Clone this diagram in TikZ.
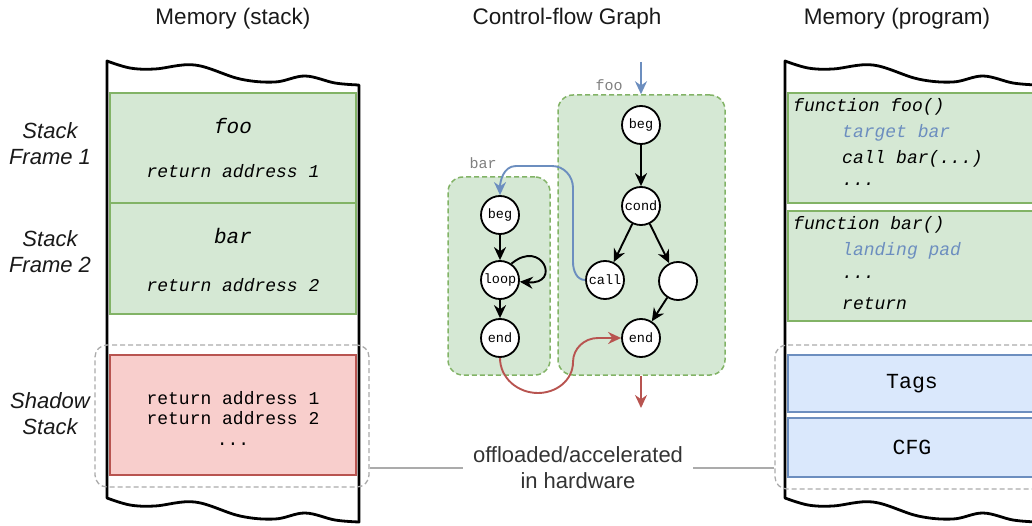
\documentclass[tikz,border=0pt]{standalone}
\usepackage{fontspec}
\setmainfont{Liberation Sans}
\setmonofont{Liberation Mono}
\usetikzlibrary{arrows.meta}

\definecolor{grfill}{HTML}{D5E8D4}
\definecolor{grline}{HTML}{82B366}
\definecolor{rdfill}{HTML}{F8CECC}
\definecolor{rdline}{HTML}{B85450}
\definecolor{blfill}{HTML}{DAE8FC}
\definecolor{blline}{HTML}{6C8EBF}
\definecolor{hwgray}{HTML}{ABABAB}
\definecolor{txtgray}{HTML}{333333}

\newcommand{\sans}[2]{\fontsize{#1}{#2}\selectfont}
\newcommand{\mono}[2]{\ttfamily\fontsize{#1}{#2}\selectfont}

\tikzset{
  tape/.style={line width=2.8pt, line join=round},
  greenbox/.style={draw=grline, fill=grfill, line width=1.4pt, inner sep=0pt},
  redbox/.style={draw=rdline, fill=rdfill, line width=1.4pt, inner sep=0pt},
  bluebox/.style={draw=blline, fill=blfill, line width=1.4pt, inner sep=0pt, font=\mono{21.5}{25}},
  hwbox/.style={draw=hwgray, dashed, dash pattern=on 5pt off 3pt, line width=1.3pt, rounded corners=12, inner sep=0pt},
  grp/.style={draw=grline, fill=grfill, dash pattern=on 5pt off 3pt, line width=1.5pt, rounded corners=15, inner sep=0pt},
  grplbl/.style={text=gray, font=\mono{15}{17}},
  cfgnode/.style={circle, draw, fill=white, line width=1.8pt, minimum size=38, inner sep=0pt, font=\mono{13.5}{15}},
  arr/.style={line width=1.9pt, -{Stealth[length=13pt, width=12pt]}},
  barr/.style={arr, draw=blline},
  rarr/.style={arr, draw=rdline},
  code/.style={anchor=west, inner sep=0pt, font=\mono{18}{20}\itshape},
  lbl/.style={align=center, font=\sans{22}{26}\itshape, text=black!90},
  title/.style={font=\sans{22.5}{26}, text=black!90}
}

\begin{document}
\begin{tikzpicture}[x=1pt, y=-1pt]
  \useasboundingbox (0,0) rectangle (1032,526);
  \clip (0,0) rectangle (1032,526);

  % titles
  \node[title] (t1) at (233,19) {Memory (stack)};
  \node[title] (t2) at (567,19) {Control-flow Graph};
  \node[title] (t3) at (897,19) {Memory (program)};

  % tapes
  \foreach \dx in {0,678} {
    \draw[tape, xshift=\dx] (107,61) -- plot[smooth, tension=0.6] coordinates {(107,61) (130,68) (155,69) (195,65) (240,79) (275,82) (305,76) (335,83) (359,85)}
      -- (359,522) -- plot[smooth, tension=0.6] coordinates {(359,522) (335,520) (305,513) (275,519) (240,516) (195,502) (155,506) (130,505) (107,498)} -- cycle;
  }

  % hardware groups
  \node[hwbox, minimum width=274, minimum height=142] (lhw) at (232,416) {};
  \node[hwbox, minimum width=270, minimum height=144] (rhw) at (910,417) {};

  % stack
  \node[greenbox, minimum width=246, minimum height=110] (sfoo) at (233,148) {};
  \node[greenbox, minimum width=246, minimum height=111] (sbar) at (233,258.5) {};
  \node[redbox, minimum width=246, minimum height=120] (shadow) at (233,415) {};
  \node[font=\mono{21}{24}\itshape] (sfootxt) at (233,126) {foo};
  \node[font=\mono{18}{20}\itshape] (sfooret) at (233,171) {return address 1};
  \node[font=\mono{21}{24}\itshape] (sbartxt) at (233,236) {bar};
  \node[font=\mono{18}{20}\itshape] (sbarret) at (233,285) {return address 2};
  \node[align=center, font=\mono{18}{20.5}] (shtxt) at (233,418) {return address 1\\return address 2\\...};

  \node[lbl] (sf1) at (50,144) {Stack\\Frame 1};
  \node[lbl] (sf2) at (50,252) {Stack\\Frame 2};
  \node[lbl] (ssh) at (50,414) {Shadow\\Stack};

  % control-flow graph
  \node[grp, minimum width=102, minimum height=198] (bargrp) at (499,276) {};
  \node[grp, minimum width=167, minimum height=280] (foogrp) at (641.5,235) {};
  \node[grplbl] (barlbl) at (483,163) {bar};
  \node[grplbl] (foolbl) at (609,85) {foo};

  \node[cfgnode] (bbeg) at (500,215) {beg};
  \node[cfgnode] (bloop) at (500,280) {loop};
  \node[cfgnode] (bend) at (500,338) {end};
  \node[cfgnode] (fbeg) at (641,125) {beg};
  \node[cfgnode] (fcond) at (641,206) {cond};
  \node[cfgnode] (fcall) at (605,280) {call};
  \node[cfgnode] (fblank) at (678,281) {};
  \node[cfgnode] (fend) at (641,338) {end};

  \draw[arr] (bbeg) -- (bloop);
  \draw[arr] (bloop) -- (bend);
  \draw[arr] (bloop.55) .. controls (542,238) and (562,285) .. (bloop.-5);
  \draw[arr] (fbeg) -- (fcond);
  \draw[arr] (fcond) -- (fcall);
  \draw[arr] (fcond) -- (fblank);
  \draw[arr] (fblank) -- (fend);

  \coordinate (fin) at (641,62);
  \coordinate (fout) at (641,408);
  \draw[barr] (fin) -- (foogrp.north -| fin);
  \draw[rarr] (foogrp.south -| fout) -- (fout);
  \draw[barr] (fcall.west) to[out=180, in=-90] (573,262) -- (573,188) to[out=90, in=0] (552,166) -- (516,166) to[out=180, in=90] (bbeg.north);
  \draw[rarr] (bend.south) to[out=-90, in=180] (538,393) to[out=0, in=-90] (573,362) to[out=90, in=180] (598,338) -- (fend.west);

  % program memory
  \node[greenbox, minimum width=248, minimum height=110] (pfoo) at (912,148) {};
  \node[greenbox, minimum width=248, minimum height=110] (pbar) at (912,266) {};
  \node[bluebox, minimum width=248, minimum height=57] (tags) at (912,383.5) {Tags};
  \node[bluebox, minimum width=248, minimum height=59] (cfg) at (912,447.5) {CFG};

  \node[code] (c1) at (793,107) {function foo()};
  \node[code, text=blline] (c2) at (842,133) {target bar};
  \node[code] (c3) at (842,159) {call bar(...)};
  \node[code] (c4) at (842,184) {...};
  \node[code] (c5) at (793,225) {function bar()};
  \node[code, text=blline] (c6) at (842,251) {landing pad};
  \node[code] (c7) at (842,277) {...};
  \node[code] (c8) at (842,304) {return};

  % offloaded
  \node[align=center, inner sep=10pt, font=\sans{22}{26}, text=txtgray] (hw) at (578,468) {offloaded/accelerated\\in hardware};
  \draw[hwgray, line width=1.3pt] (lhw.east |- hw.west) -- (hw.west);
  \draw[hwgray, line width=1.3pt] (hw.east) -- (rhw.west |- hw.east);
\end{tikzpicture}
\end{document}
